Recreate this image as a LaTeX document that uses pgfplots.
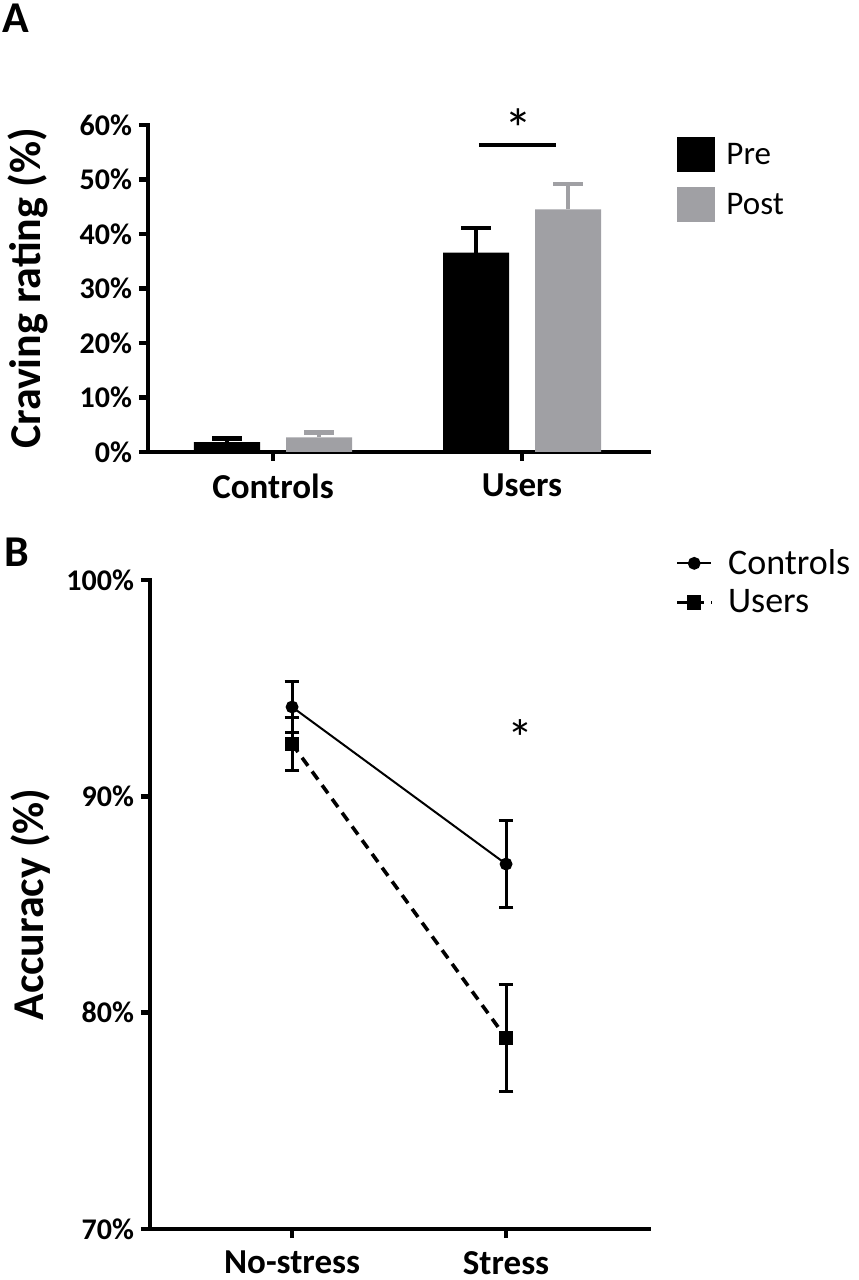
\documentclass[border=0pt]{standalone}
\usepackage{pgfplots}
\pgfplotsset{compat=1.18}
\usepackage{fontspec}
\setmainfont{Carlito}
\definecolor{postgrey}{RGB}{160,160,164}
\newcommand{\fs}[1]{\fontsize{#1}{#1}\selectfont}

\pgfplotsset{
  prism/.style={
    scale only axis,
    axis lines=left,
    axis line style={-, line width=2.2pt, line cap=rect},
    tick align=outside,
    major tick length=4.5pt,
    every tick/.style={black, line width=2.2pt},
    /pgf/number format/assume math mode=true,
    yticklabel={\pgfmathprintnumber{\tick}\%},
    yticklabel style={font=\fs{15pt}\bfseries},
    xticklabel style={font=\fs{17.5pt}\bfseries, yshift=-3pt},
    ylabel style={font=\fs{22pt}\bfseries, at={(axis description cs:-0.24,0.5)}, anchor=center, rotate=0},
    legend cell align=left,
    clip=false,
  },
}

\begin{document}
\begin{tikzpicture}
\useasboundingbox (0,0) rectangle (429pt,640pt);

% panel letters
\node[anchor=north west, inner sep=0pt, font=\fs{22pt}\bfseries] at (1pt,638pt) {A};
\node[anchor=north west, inner sep=0pt, font=\fs{22pt}\bfseries] at (2pt,371pt) {B};

% ---- panel A: craving
\begin{axis}[prism,
  at={(74pt,414pt)}, anchor=south west,
  width=250.5pt, height=163.5pt,
  xmin=-0.502, xmax=1.510, ymin=0, ymax=60,
  ybar=13pt, bar width=33pt,
  xtick={0,1}, xticklabels={Controls,Users},
  ytick={0,10,20,30,40,50,60},
  ylabel={Craving rating (\%)},
  legend style={at={(1.056,0.963)}, anchor=north west, draw=none, fill=none,
    font=\fs{16.5pt}, row sep=7.5pt, inner sep=0pt,
    nodes={inner xsep=5.5pt}},
  error bars/y dir=plus, error bars/y explicit,
]
\addplot+[fill=black, draw=none,
  error bars/error bar style={black, line width=2pt},
  error bars/error mark options={black, rotate=90, mark size=7.5pt, line width=2.3pt},
  legend image code/.code={\fill[black] (0pt,-8.75pt) rectangle (19pt,8.75pt);}]
  coordinates {(0,1.8) +- (0,0.7) (1,36.6) +- (0,4.5)};
\addlegendentry{Pre}
\addplot+[fill=postgrey, draw=none,
  error bars/error bar style={postgrey, line width=2pt},
  error bars/error mark options={postgrey, rotate=90, mark size=7.5pt, line width=2.3pt},
  legend image code/.code={\fill[postgrey] (0pt,-8.75pt) rectangle (19pt,8.75pt);}]
  coordinates {(0,2.7) +- (0,0.9) (1,44.5) +- (0,4.7)};
\addlegendentry{Post}
% significance
\draw[line width=2.3pt] (axis cs:0.827,56.3) -- (axis cs:1.137,56.3);
\node[font=\fs{28pt}] at (axis cs:0.985,59.3) {*};
\end{axis}

% ---- panel B: accuracy
\begin{axis}[prism,
  at={(75pt,25.5pt)}, anchor=south west,
  width=249.5pt, height=324.5pt,
  xmin=-0.664, xmax=1.668, ymin=70, ymax=100,
  xtick={0,1}, xticklabels={No-stress,Stress},
  ytick={70,80,90,100},
  ylabel={Accuracy (\%)},
  legend style={at={(1.052,1.054)}, anchor=north west, draw=none, fill=none,
    font=\fs{18pt}, row sep=2pt, inner sep=0pt,
    nodes={inner xsep=7.5pt}},
  error bars/y dir=both, error bars/y explicit,
  error bars/error bar style={solid, black, line width=1.5pt},
  error bars/error mark options={solid, black, rotate=90, mark size=3.7pt, line width=1.5pt},
]
\addplot[black, line width=1pt, mark=*, mark size=2.7pt, mark options={solid}]
  coordinates {(0,94.13) +- (0,1.2) (1,86.87) +- (0,2.03)};
\addlegendentry{Controls}
\addplot[black, line width=1.8pt, dash pattern=on 5pt off 3.5pt, mark=square*, mark size=2.7pt, mark options={solid}]
  coordinates {(0,92.42) +- (0,1.22) (1,78.83) +- (0,2.47)};
\addlegendentry{Users}
\node[font=\fs{26pt}] at (axis cs:1.065,92.7) {*};
\end{axis}
\end{tikzpicture}
\end{document}
